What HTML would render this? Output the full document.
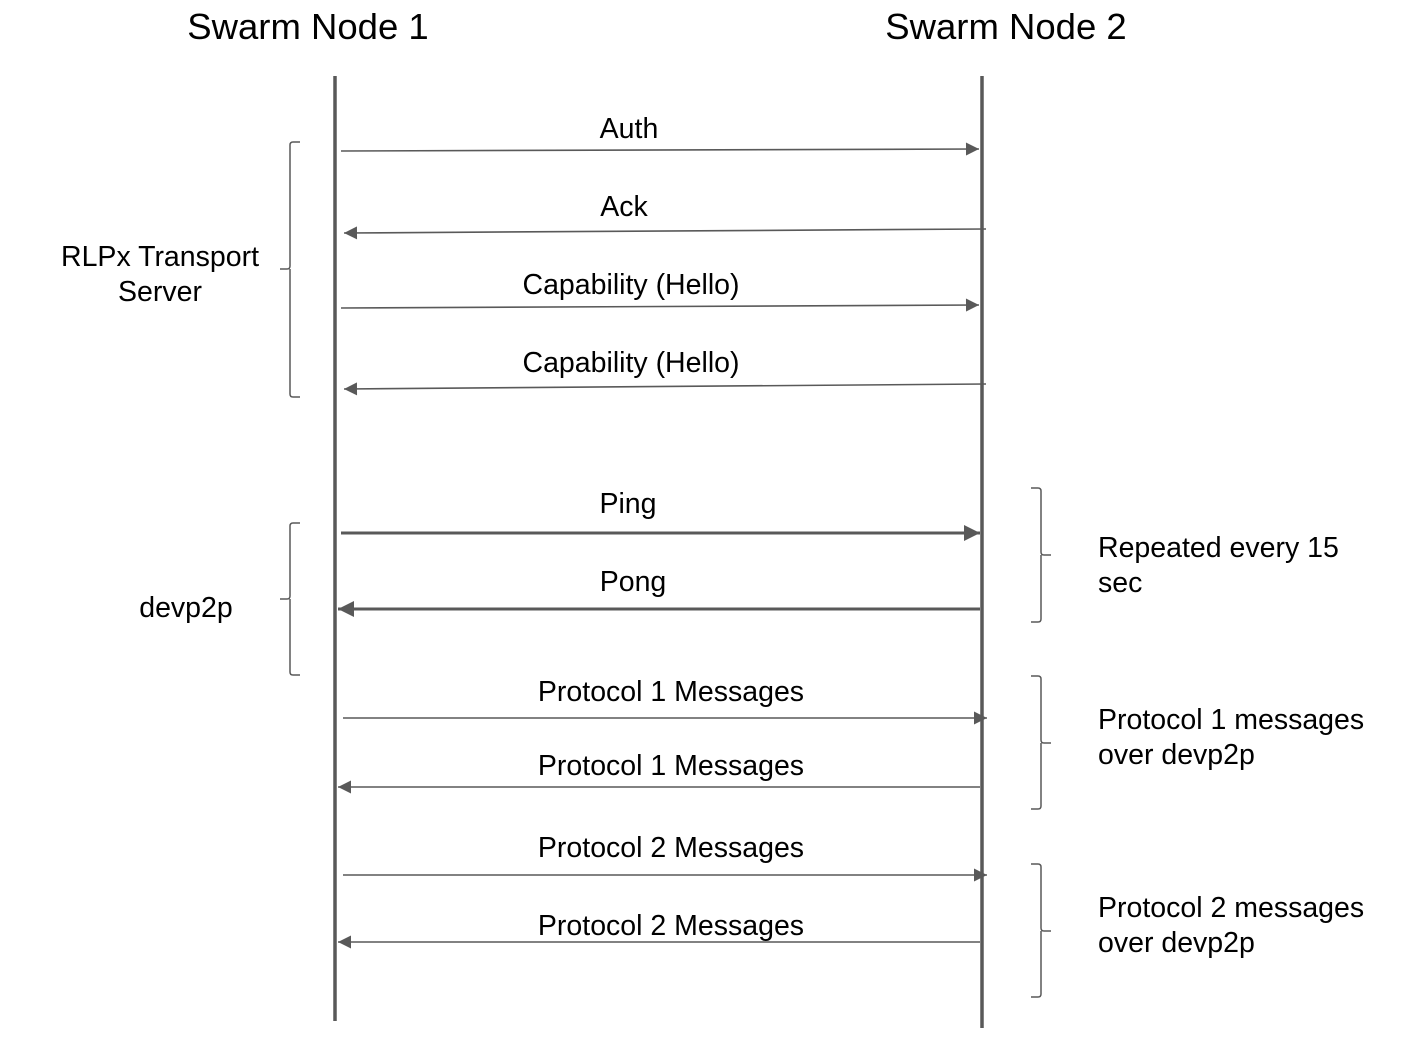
<!DOCTYPE html>
<html><head><meta charset="utf-8"><style>
html,body{margin:0;padding:0;background:#fff;}
svg{display:block;}
text{font-family:"Liberation Sans",Arial,sans-serif;fill:#000;}
</style></head><body>
<svg width="1424" height="1046" viewBox="0 0 1424 1046" xmlns="http://www.w3.org/2000/svg">
<defs>
<marker id="a" viewBox="0 0 10 10" refX="10" refY="5" markerWidth="19" markerHeight="13" markerUnits="userSpaceOnUse" orient="auto"><path d="M0,0L10,5L0,10z" fill="#595959"/></marker>
<marker id="b" viewBox="0 0 10 10" refX="10" refY="5" markerWidth="22" markerHeight="16" markerUnits="userSpaceOnUse" orient="auto"><path d="M0,0L10,5L0,10z" fill="#595959"/></marker>
</defs>
<g font-size="36.5" text-anchor="middle">
<text x="308" y="39">Swarm Node 1</text>
<text x="1006" y="39">Swarm Node 2</text>
</g>
<g stroke="#595959" stroke-width="3.5">
<line x1="335" y1="76" x2="335" y2="1021"/>
<line x1="982" y1="76" x2="982" y2="1028"/>
</g>
<g stroke="#595959" stroke-width="1.6" fill="none">
<line x1="341" y1="151" x2="979" y2="149" marker-end="url(#a)"/>
<line x1="986" y1="229" x2="344" y2="233" marker-end="url(#a)"/>
<line x1="341" y1="308" x2="979" y2="305" marker-end="url(#a)"/>
<line x1="986" y1="384" x2="344" y2="389" marker-end="url(#a)"/>
<line x1="343" y1="718" x2="987" y2="718" marker-end="url(#a)"/>
<line x1="980" y1="787" x2="338" y2="787" marker-end="url(#a)"/>
<line x1="343" y1="875" x2="987" y2="875" marker-end="url(#a)"/>
<line x1="980" y1="942" x2="338" y2="942" marker-end="url(#a)"/>
</g>
<g stroke="#595959" stroke-width="3" fill="none">
<line x1="341" y1="533" x2="980" y2="533" marker-end="url(#b)"/>
<line x1="980" y1="609" x2="338" y2="609" marker-end="url(#b)"/>
</g>
<g stroke="#595959" stroke-width="1.5" fill="none">
<path d="M300,142H293Q290,142 290,145V266Q290,269 287,269H280M290,269V394Q290,397 293,397H300"/>
<path d="M300,523H293Q290,523 290,526V596Q290,599 287,599H280M290,599V672Q290,675 293,675H300"/>
<path d="M1031,488H1038Q1041,488 1041,491V552Q1041,555 1044,555H1051M1041,555V619Q1041,622 1038,622H1031"/>
<path d="M1031,676H1038Q1041,676 1041,679V740Q1041,743 1044,743H1051M1041,743V806Q1041,809 1038,809H1031"/>
<path d="M1031,864H1038Q1041,864 1041,867V928Q1041,931 1044,931H1051M1041,931V994Q1041,997 1038,997H1031"/>
</g>
<g font-size="28.5" text-anchor="middle">
<text x="629" y="138">Auth</text>
<text x="624" y="216">Ack</text>
<text x="631" y="294">Capability (Hello)</text>
<text x="631" y="372">Capability (Hello)</text>
<text x="628" y="513">Ping</text>
<text x="633" y="591">Pong</text>
<text x="671" y="701">Protocol 1 Messages</text>
<text x="671" y="775">Protocol 1 Messages</text>
<text x="671" y="857">Protocol 2 Messages</text>
<text x="671" y="935">Protocol 2 Messages</text>
<text x="160" y="266">RLPx Transport</text>
<text x="160" y="301">Server</text>
<text x="186" y="617">devp2p</text>
</g>
<g font-size="28.5">
<text x="1098" y="557">Repeated every 15</text>
<text x="1098" y="592">sec</text>
<text x="1098" y="729">Protocol 1 messages</text>
<text x="1098" y="764">over devp2p</text>
<text x="1098" y="917">Protocol 2 messages</text>
<text x="1098" y="952">over devp2p</text>
</g>
</svg>
</body></html>
